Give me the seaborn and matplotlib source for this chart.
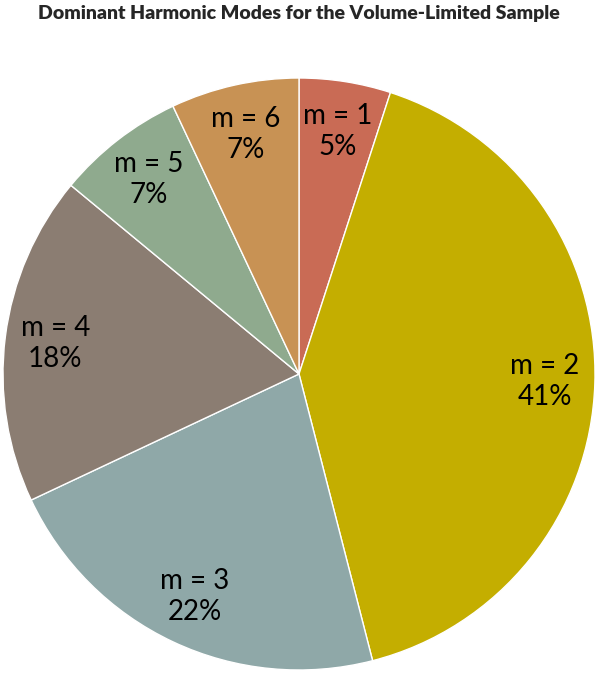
import numpy as np
import seaborn as sns
import matplotlib.pyplot as plt

# data
modes = ['m = 1', 'm = 2', 'm = 3', 'm = 4', 'm = 5', 'm = 6']
shares = [5, 41, 22, 18, 7, 7]
colors = ['#C96B55', '#C4AE00', '#8FA8A8', '#8B7D72', '#8FAA8E', '#C89254']

sns.set_theme(style='white')
plt.rcParams['font.family'] = ['Lato', 'DejaVu Sans']

fig = plt.figure(figsize=(5.98, 6.74), dpi=100)
ax = fig.add_axes([3 / 598, 4 / 674, 592 / 598, 592 / 674])

wedges, _ = ax.pie(shares, colors=colors, startangle=90, counterclock=False,
                   wedgeprops=dict(edgecolor='white', linewidth=1.0))

# labels in the middle of each wedge
for w, name, s in zip(wedges, modes, shares):
    ang = np.deg2rad((w.theta1 + w.theta2) / 2)
    r = 0.83
    ax.text(r * np.cos(ang), r * np.sin(ang), f'{name}\n{s}%',
            ha='center', va='center', fontsize=20, color='black',
            linespacing=1.25)

ax.set_xlim(-1, 1)
ax.set_ylim(-1, 1)
ax.set_aspect('equal')

fig.text(0.5, 1 - 14 / 674, 'Dominant Harmonic Modes for the Volume-Limited Sample',
         ha='center', va='center', fontsize=14, fontweight='heavy')

fig.savefig('out.png', dpi=100)
